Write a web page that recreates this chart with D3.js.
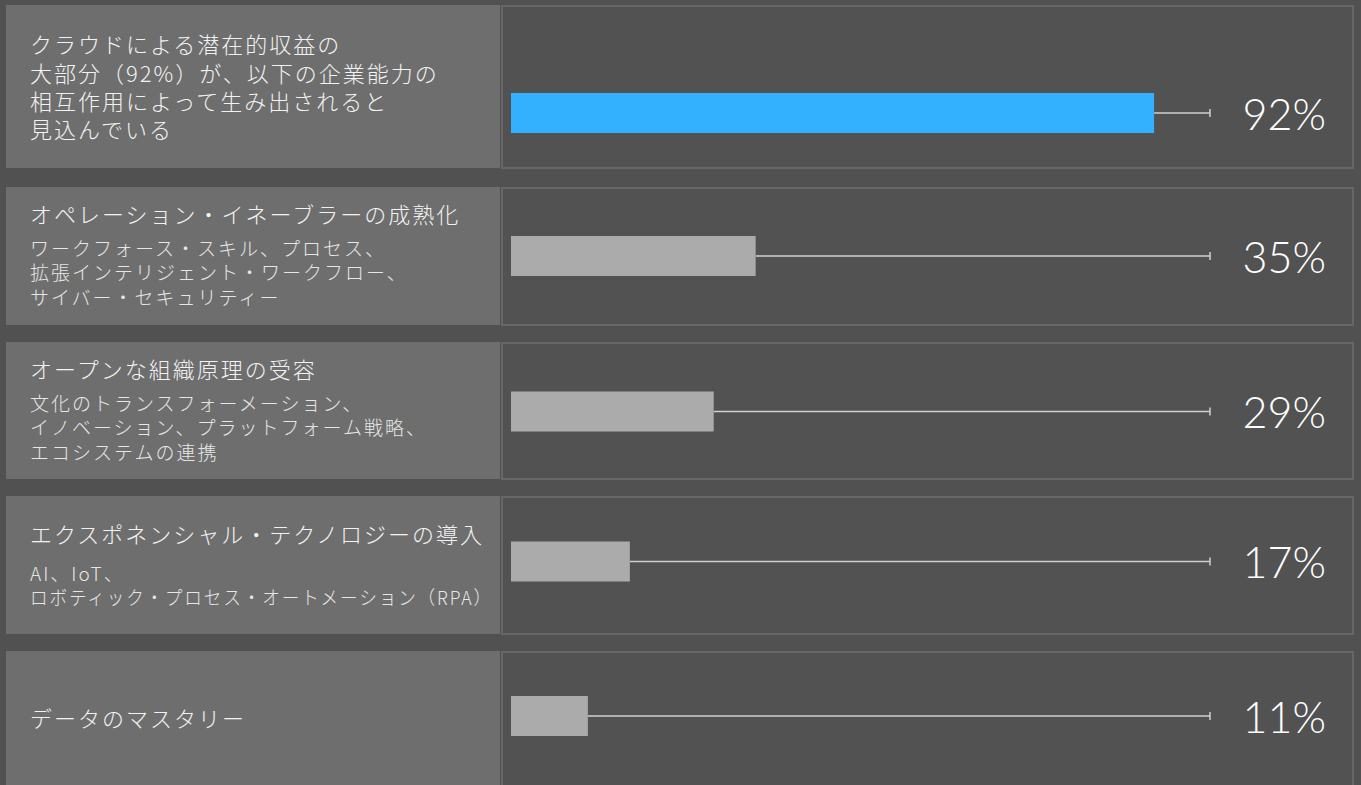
<!DOCTYPE html>
<html>
<head>
<meta charset="utf-8">
<script src="https://cdn.jsdelivr.net/npm/d3@7"></script>
<style>
  html, body { margin: 0; padding: 0; background: #515151; }
  svg { display: block; }
  .ttl { font-family: "Noto Sans CJK JP", "Noto Sans", sans-serif; font-weight: 300; fill: #f2f2f2; }
  .sub { font-family: "Noto Sans CJK JP", "Noto Sans", sans-serif; font-weight: 300; fill: #e6e6e6; }
  .val { font-family: Lato, Roboto, "Open Sans", sans-serif; font-weight: 300; fill: #ffffff; }
</style>
</head>
<body>
<div id="chart"></div>
<script>
// data
var categories = [
	"クラウドによる潜在的収益の|大部分（92%）が、以下の企業能力の|相互作用によって生み出されると|見込んでいる",
	"オペレーション・イネーブラーの成熟化",
	"オープンな組織原理の受容",
	"エクスポネンシャル・テクノロジーの導入",
	"データのマスタリー"
];
var details = [
	"",
	"ワークフォース・スキル、プロセス、|拡張インテリジェント・ワークフロー、|サイバー・セキュリティー",
	"文化のトランスフォーメーション、|イノベーション、プラットフォーム戦略、|エコシステムの連携",
	"AI、IoT、|ロボティック・プロセス・オートメーション（RPA）",
	""
];
var values = [92, 35, 29, 17, 11];
var highlight = [true, false, false, false, false];

var W = 1361, H = 785;

// row geometry (tops / heights of the panels)
var rowTop = [5, 187, 342, 496, 651];
var rowH = [163, 138, 137, 138, 140];
var barMid = [113, 256, 411.5, 561.5, 716];
var maxText = 463;

var x = d3.scaleLinear().domain([0, 100]).range([511, 1210]);

var svg = d3.select("#chart").append("svg")
	.attr("width", W).attr("height", H);

svg.append("rect").attr("width", W).attr("height", H).attr("fill", "#515151");

var rows = svg.selectAll(".row")
	.data(values.map(function(v, i) {
		return { v: v, i: i, cat: categories[i], det: details[i], hi: highlight[i] };
	}))
	.enter().append("g").attr("class", "row");

// left label panel
rows.append("rect")
	.attr("x", 6).attr("y", function(d) { return rowTop[d.i]; })
	.attr("width", 494).attr("height", function(d) { return rowH[d.i]; })
	.attr("fill", "#6e6e6e");

// right panel with thin border
rows.append("rect")
	.attr("x", 502).attr("y", function(d) { return rowTop[d.i] + 1; })
	.attr("width", 851).attr("height", function(d) { return rowH[d.i] - 1; })
	.attr("fill", "#525252")
	.attr("stroke", "#676767").attr("stroke-width", 2);

function fit(sel) {
	sel.each(function() {
		if (this.getComputedTextLength() > maxText)
			d3.select(this).attr("textLength", maxText).attr("lengthAdjust", "spacingAndGlyphs");
	});
}

// titles + details
rows.each(function(d) {
	var g = d3.select(this);
	var tl = d.cat.split("|");
	var dl = d.det ? d.det.split("|") : [];
	var tY, dY;
	if (d.i === 0) { tY = [43, 72, 100, 128]; }
	else if (dl.length === 0) { tY = [rowTop[d.i] + 66]; }
	else {
		var shift = dl.length === 2 ? 11 : 0;
		tY = [rowTop[d.i] + 26 + shift];
		dY = dl.map(function(s, k) { return rowTop[d.i] + 60 + (dl.length === 2 ? 16 : 0) + k * 24.5; });
	}
	g.selectAll(".ttl").data(tl).enter().append("text")
		.attr("class", "ttl")
		.attr("x", 30).attr("y", function(s, k) { return tY[k]; })
		.attr("dominant-baseline", "central")
		.attr("font-size", 22).attr("letter-spacing", 2)
		.text(function(s) { return s; })
		.call(fit);
	if (dl.length) {
		g.selectAll(".sub").data(dl).enter().append("text")
			.attr("class", "sub")
			.attr("x", 30).attr("y", function(s, k) { return dY[k]; })
			.attr("dominant-baseline", "central")
			.attr("font-size", 19).attr("letter-spacing", 2)
			.text(function(s) { return s; })
			.call(fit);
	}
});

// reference line to 100%
rows.append("line")
	.attr("x1", function(d) { return x(d.v); }).attr("x2", x(100))
	.attr("y1", function(d) { return barMid[d.i]; }).attr("y2", function(d) { return barMid[d.i]; })
	.attr("stroke", "#d0d0d0").attr("stroke-width", 1.5);
rows.append("line")
	.attr("x1", x(100)).attr("x2", x(100))
	.attr("y1", function(d) { return barMid[d.i] - 4; }).attr("y2", function(d) { return barMid[d.i] + 4; })
	.attr("stroke", "#d0d0d0").attr("stroke-width", 1.5);

// bars
rows.append("rect")
	.attr("x", x(0))
	.attr("y", function(d) { return barMid[d.i] - 20; })
	.attr("width", function(d) { return x(d.v) - x(0); })
	.attr("height", 40)
	.attr("fill", function(d) { return d.hi ? "#33b1ff" : "#ababab"; });

// values
rows.append("text")
	.attr("class", "val")
	.attr("x", 1326).attr("y", function(d) { return barMid[d.i]; })
	.attr("text-anchor", "end").attr("dominant-baseline", "central")
	.attr("font-size", 43)
	.text(function(d) { return d.v + "%"; });
</script>
</body>
</html>
